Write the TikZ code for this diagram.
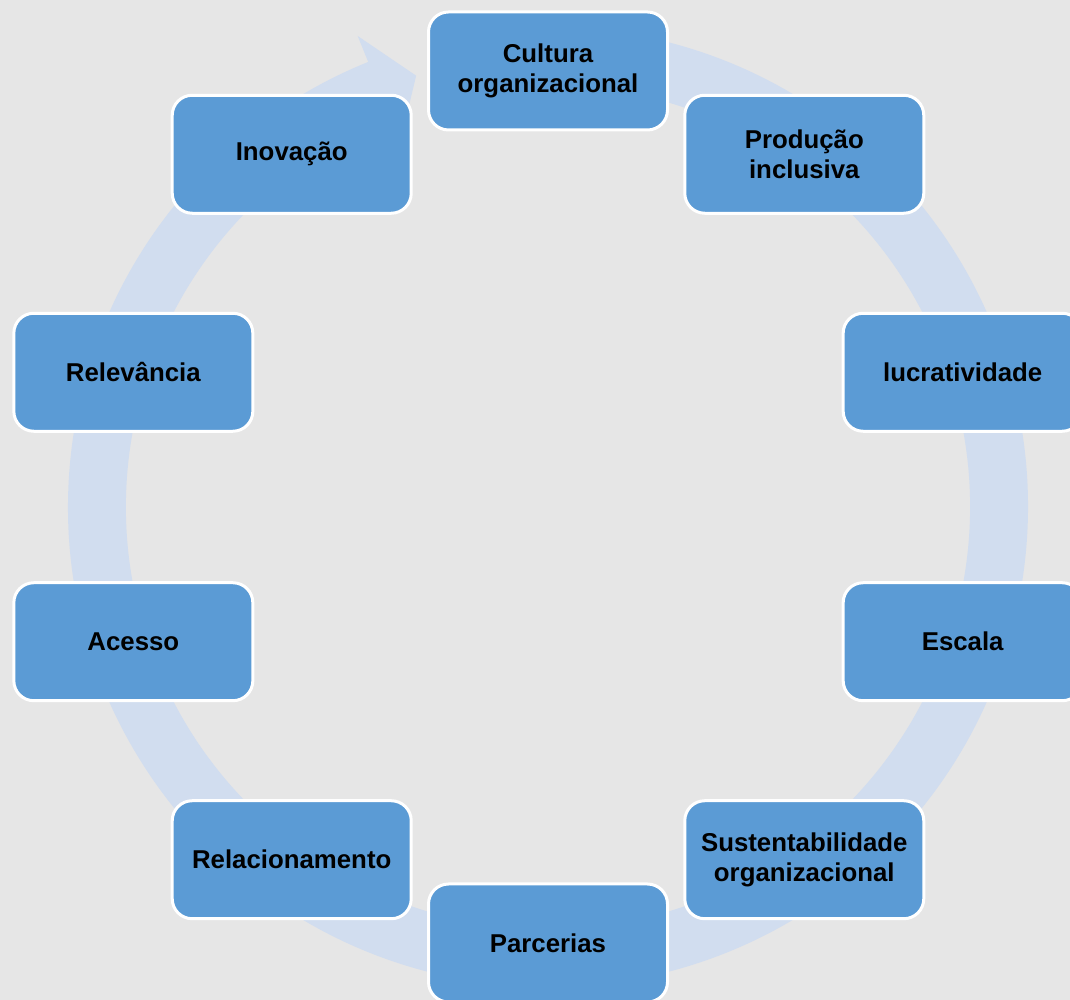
\documentclass[tikz,border=0pt]{standalone}
\usepackage{fontspec}
\setmainfont{Liberation Sans}
\usetikzlibrary{calc}
\definecolor{bg}{HTML}{E6E6E6}
\definecolor{ringc}{HTML}{D1DDEF}
\definecolor{boxblue}{HTML}{5B9BD5}
\begin{document}
\begin{tikzpicture}[x=1pt,y=1pt,
  blk/.style={draw=white, line width=3pt, fill=boxblue, rounded corners=20pt,
    minimum width=239pt, minimum height=118pt, inner sep=0pt, align=center,
    font=\fontsize{25.8}{30}\selectfont\bfseries, text=black}]
\useasboundingbox (0,0) rectangle (1070,1000);
\clip (0,0) rectangle (1070,1000);
\fill[bg] (0,0) rectangle (1070,1000);
\coordinate (c) at (548,493);
% ring with arrowhead
\fill[ringc] ($(c)+(85:480pt)$) arc[start angle=85, end angle=-248, radius=480pt]
  -- ($(c)+(-248:508pt)$) -- ($(c)+(-253:451pt)$) -- ($(c)+(-248:394pt)$)
  -- ($(c)+(-248:422pt)$) arc[start angle=-248, end angle=85, radius=422pt] -- cycle;
% boxes
\node[blk] (n0) at ($(c)+(90:436pt)$) {Cultura\\organizacional};
\node[blk] (n1) at ($(c)+(54:436pt)$) {Produção\\inclusiva};
\node[blk] (n2) at ($(c)+(18:436pt)$) {lucratividade};
\node[blk] (n3) at ($(c)+(-18:436pt)$) {Escala};
\node[blk] (n4) at ($(c)+(-54:436pt)$) {Sustentabilidade\\organizacional};
\node[blk] (n5) at ($(c)+(-90:436pt)$) {Parcerias};
\node[blk] (n6) at ($(c)+(-126:436pt)$) {Relacionamento};
\node[blk] (n7) at ($(c)+(-162:436pt)$) {Acesso};
\node[blk] (n8) at ($(c)+(162:436pt)$) {Relevância};
\node[blk] (n9) at ($(c)+(126:436pt)$) {Inovação};
\end{tikzpicture}
\end{document}
